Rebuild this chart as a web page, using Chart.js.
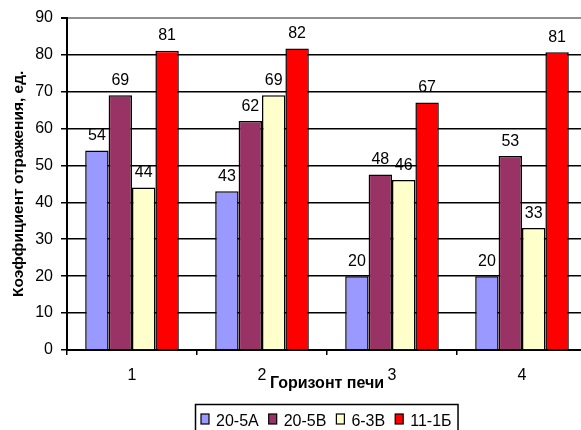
<!DOCTYPE html>
<html><head><meta charset="utf-8">
<script src="https://cdn.jsdelivr.net/npm/chart.js@4"></script>
<style>html,body{margin:0;padding:0;overflow:hidden;background:#fff;width:581px;height:430px}canvas{display:block}</style>
</head><body><canvas id="c" width="600" height="430"></canvas>
<script>
const categories = ['1', '2', '3', '4'];
const seriesNames = ['20-5А', '20-5В', '6-3В', '11-1Б'];
const series1 = [54, 43, 20, 20];
const series2 = [69, 62, 47.5, 52.5];
const series3 = [44, 69, 46, 33];
const series4 = [81, 81.6, 67, 80.6];
const yTicks = [0, 10, 20, 30, 40, 50, 60, 70, 80, 90];
const colors = ['#9999FF', '#993366', '#FFFFCC', '#FF0000'];
const xTitle = 'Горизонт печи';
const yTitle = 'Коэффициент отражения, ед.';

const FONT = '"Liberation Sans", Arial, sans-serif';

const valueLabels = {
  id: 'valueLabels',
  afterDatasetsDraw(chart) {
    const ctx = chart.ctx;
    ctx.save();
    ctx.font = '16px ' + FONT;
    ctx.fillStyle = '#000';
    ctx.textAlign = 'center';
    ctx.textBaseline = 'alphabetic';
    chart.data.datasets.forEach((ds, i) => {
      chart.getDatasetMeta(i).data.forEach((bar, j) => {
        ctx.fillText(String(Math.round(ds.data[j])), bar.x, bar.y - 10.5);
      });
    });
    ctx.restore();
  }
};

const boxLegend = {
  id: 'boxLegend',
  afterDraw(chart) {
    const ctx = chart.ctx;
    const ca = chart.chartArea;
    ctx.save();
    ctx.font = '16px ' + FONT;
    const mk = 8, gapMk = 7, gapItem = 10, padX = 6;
    const items = chart.data.datasets.map(ds => ({label: ds.label, color: ds.backgroundColor, w: ctx.measureText(ds.label).width}));
    let total = padX * 2;
    items.forEach((it, i) => { total += mk + gapMk + it.w + (i < items.length - 1 ? gapItem : 0); });
    const cx = (ca.left + ca.right) / 2 - 1;
    const left = Math.round(cx - total / 2);
    const top = 404;
    ctx.strokeStyle = '#000';
    ctx.lineWidth = 1.5;
    ctx.strokeRect(left + 0.5, top + 0.5, total, 40);
    let x = left + padX;
    const yMid = 422;
    items.forEach(it => {
      ctx.fillStyle = it.color;
      ctx.fillRect(x, yMid - 8, mk, 10);
      ctx.strokeStyle = '#000';
      ctx.lineWidth = 1.2;
      ctx.strokeRect(x, yMid - 8, mk, 10);
      x += mk + gapMk;
      ctx.fillStyle = '#000';
      ctx.textBaseline = 'middle';
      ctx.textAlign = 'left';
      ctx.fillText(it.label, x, yMid);
      x += it.w + gapItem;
    });
    ctx.restore();
  }
};

const datasets = [series1, series2, series3, series4].map((d, i) => ({
  label: seriesNames[i],
  data: d,
  backgroundColor: colors[i],
  borderColor: '#000',
  borderWidth: 1.5,
  borderSkipped: 'bottom',
  categoryPercentage: 0.72,
  barPercentage: 1.0
}));

new Chart(document.getElementById('c'), {
  type: 'bar',
  data: { labels: categories, datasets },
  options: {
    responsive: false,
    animation: false,
    devicePixelRatio: 1,
    layout: { padding: { top: 17, bottom: 35, left: 0, right: 13 } },
    plugins: { legend: { display: false }, tooltip: { enabled: false } },
    scales: {
      x: {
        afterFit(scale) { scale.height = 45; },
        grid: { offset: true, drawOnChartArea: false, drawTicks: true, tickLength: 5, color: '#000', lineWidth: 1.5 },
        border: { display: true, color: '#000', width: 2 },
        ticks: { color: '#000', font: { family: FONT, size: 16 }, padding: 11.4 },
        title: { display: true, text: xTitle, color: '#000', font: { family: FONT, size: 16, weight: 'bold' }, padding: { top: 0, bottom: 1.4 } }
      },
      y: {
        min: 0, max: 90,
        afterFit(scale) { scale.width = 67; },
        afterBuildTicks(scale) { scale.ticks = yTicks.map(v => ({ value: v })); },
        grid: { color: c => (c.tick && c.tick.value === 90 ? '#909090' : '#000'), lineWidth: c => (c.tick && c.tick.value === 90 ? 2 : 1.5), tickLength: 6, tickColor: '#000' },
        border: { display: true, color: '#000', width: 2 },
        ticks: { color: '#000', font: { family: FONT, size: 16 }, padding: 8 },
        title: { display: true, text: yTitle, color: '#000', font: { family: FONT, size: 15.5, weight: 'bold' }, padding: { top: 9.5, bottom: 0 } }
      }
    }
  },
  plugins: [valueLabels, boxLegend]
});
</script></body></html>
